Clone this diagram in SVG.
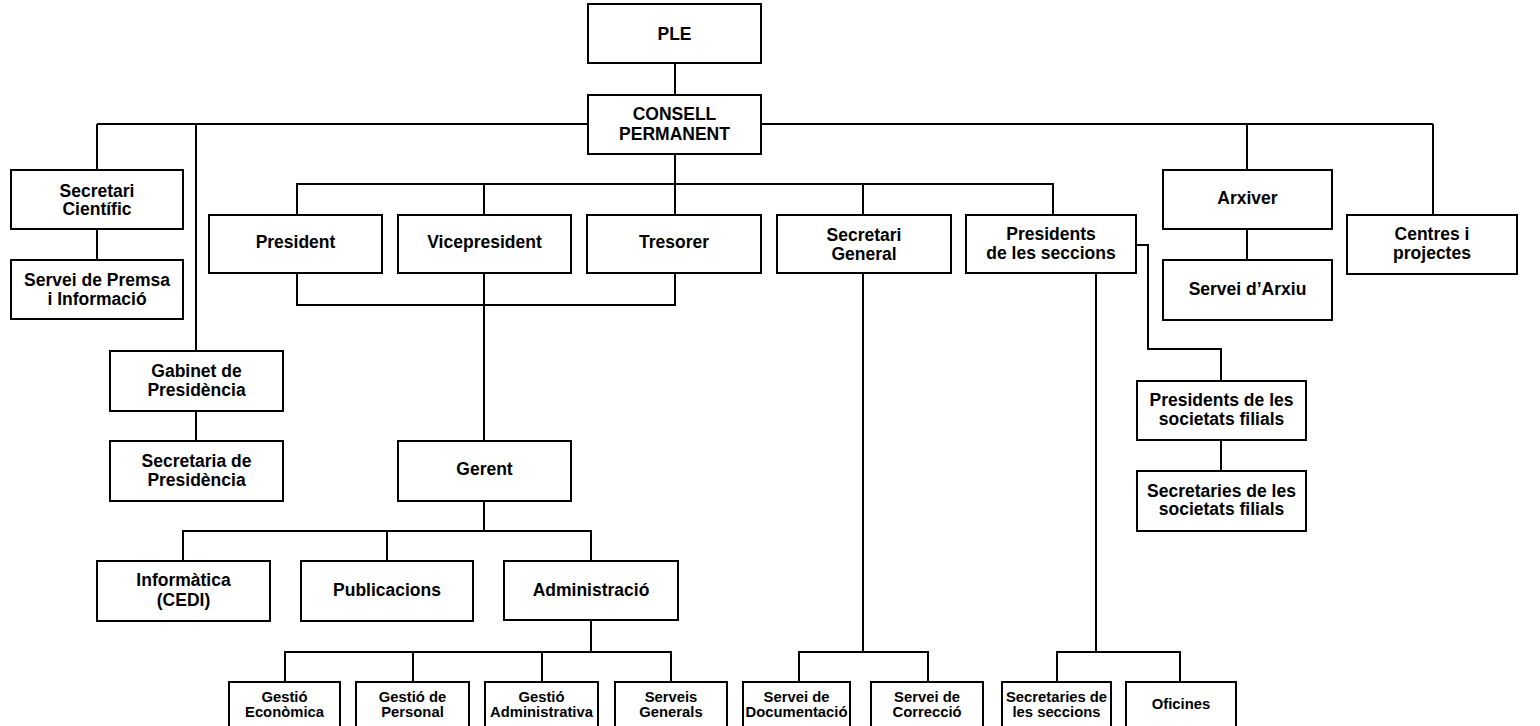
<svg xmlns="http://www.w3.org/2000/svg" width="1540" height="726" viewBox="0 0 1540 726">
<style>
.bg{fill:#ffffff}
.n rect{fill:#ffffff;stroke:#000000;stroke-width:2}
.n text{font-family:"Liberation Sans",Arial,sans-serif;font-weight:bold;font-size:17.5px;fill:#000000;text-anchor:middle}
.n.s text{font-size:14.8px}
#connectors path{fill:none;stroke:#000000;stroke-width:2}
</style>
<rect class="bg" x="0" y="0" width="1540" height="726"/>
<g id="connectors">
<path d="M675 63V95"/>
<path d="M97 124H1433"/>
<path d="M97 124V170M97 229V260"/>
<path d="M196 124V351M196 411V441"/>
<path d="M1247 124V170M1247 229V260"/>
<path d="M1433 124V215"/>
<path d="M675 154V215"/>
<path d="M297 215V184H1053V215M484 184V215M863 184V215"/>
<path d="M297 273V305H675V273"/>
<path d="M484 273V441"/>
<path d="M484 501V531M183 561V531H591V561M387 531V561"/>
<path d="M591 620V652M285 682V652H671V682M413 652V682M542 652V682"/>
<path d="M863 273V652M799 682V652H928V682"/>
<path d="M1096 273V652M1057 682V652H1180V682"/>
<path d="M1136 245H1148V349H1221V381"/>
<path d="M1221 440V471"/>
</g>
<g id="ple" class="n"><rect x="588" y="4" width="173" height="59"/><text x="674.5" y="40">PLE</text></g>
<g id="consell" class="n"><rect x="588" y="95" width="173" height="59"/><text x="674.5" y="119.5">CONSELL</text><text x="674.5" y="139.5">PERMANENT</text></g>
<g id="secretari-cientific" class="n"><rect x="11" y="170" width="172" height="59"/><text x="97" y="196.5">Secretari</text><text x="97" y="214.5">Científic</text></g>
<g id="servei-premsa" class="n"><rect x="11" y="260" width="172" height="59"/><text x="97" y="285.5">Servei de Premsa</text><text x="97" y="305">i Informació</text></g>
<g id="gabinet" class="n"><rect x="110" y="351" width="173" height="60"/><text x="196.5" y="376.5">Gabinet de</text><text x="196.5" y="395.5">Presidència</text></g>
<g id="secretaria-presidencia" class="n"><rect x="110" y="441" width="173" height="60"/><text x="196.5" y="466.5">Secretaria de</text><text x="196.5" y="485.5">Presidència</text></g>
<g id="president" class="n"><rect x="209" y="215" width="173" height="58"/><text x="295.5" y="248">President</text></g>
<g id="vicepresident" class="n"><rect x="398" y="215" width="173" height="58"/><text x="484.5" y="248">Vicepresident</text></g>
<g id="tresorer" class="n"><rect x="587" y="215" width="174" height="58"/><text x="674" y="248">Tresorer</text></g>
<g id="secretari-general" class="n"><rect x="777" y="215" width="174" height="58"/><text x="864" y="241">Secretari</text><text x="864" y="260">General</text></g>
<g id="presidents-seccions" class="n"><rect x="966" y="215" width="170" height="58"/><text x="1051" y="240">Presidents</text><text x="1051" y="259">de les seccions</text></g>
<g id="arxiver" class="n"><rect x="1163" y="170" width="169" height="59"/><text x="1247.5" y="204">Arxiver</text></g>
<g id="servei-arxiu" class="n"><rect x="1163" y="260" width="169" height="60"/><text x="1247.5" y="295">Servei d’Arxiu</text></g>
<g id="centres" class="n"><rect x="1347" y="215" width="170" height="59"/><text x="1432" y="240">Centres i</text><text x="1432" y="258.5">projectes</text></g>
<g id="presidents-filials" class="n"><rect x="1137" y="381" width="169" height="59"/><text x="1221.5" y="406">Presidents de les</text><text x="1221.5" y="425">societats filials</text></g>
<g id="secretaries-filials" class="n"><rect x="1137" y="471" width="169" height="60"/><text x="1221.5" y="496.5">Secretaries de les</text><text x="1221.5" y="515">societats filials</text></g>
<g id="gerent" class="n"><rect x="398" y="441" width="173" height="60"/><text x="484.5" y="474.5">Gerent</text></g>
<g id="informatica" class="n"><rect x="97" y="561" width="173" height="60"/><text x="183.5" y="586">Informàtica</text><text x="183.5" y="606">(CEDI)</text></g>
<g id="publicacions" class="n"><rect x="301" y="561" width="172" height="60"/><text x="387" y="596">Publicacions</text></g>
<g id="administracio" class="n"><rect x="504" y="561" width="174" height="59"/><text x="591" y="596">Administració</text></g>
<g id="gestio-economica" class="n s"><rect x="229" y="682" width="111" height="52"/><text x="284.5" y="702">Gestió</text><text x="284.5" y="717">Econòmica</text></g>
<g id="gestio-personal" class="n s"><rect x="356" y="682" width="113" height="52"/><text x="412.5" y="702">Gestió de</text><text x="412.5" y="717">Personal</text></g>
<g id="gestio-administrativa" class="n s"><rect x="485" y="682" width="113" height="52"/><text x="541.5" y="702">Gestió</text><text x="541.5" y="717">Administrativa</text></g>
<g id="serveis-generals" class="n s"><rect x="615" y="682" width="112" height="52"/><text x="671" y="702">Serveis</text><text x="671" y="717">Generals</text></g>
<g id="servei-documentacio" class="n s"><rect x="743" y="682" width="107" height="52"/><text x="796.5" y="702">Servei de</text><text x="796.5" y="717">Documentació</text></g>
<g id="servei-correccio" class="n s"><rect x="871" y="682" width="112" height="52"/><text x="927" y="702">Servei de</text><text x="927" y="717">Correcció</text></g>
<g id="secretaries-seccions" class="n s"><rect x="1002" y="682" width="109" height="52"/><text x="1056.5" y="702">Secretaries de</text><text x="1056.5" y="717">les seccions</text></g>
<g id="oficines" class="n s"><rect x="1126" y="682" width="110" height="52"/><text x="1181" y="708.5">Oficines</text></g>
</svg>
